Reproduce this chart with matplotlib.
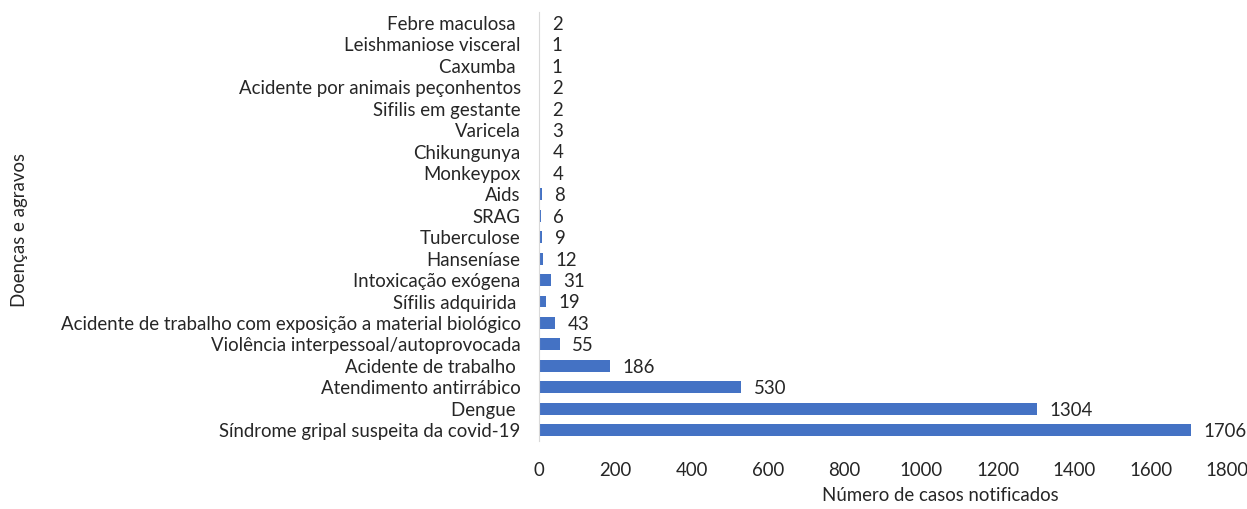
import matplotlib

matplotlib.use("Agg")
import matplotlib.pyplot as plt

# top to bottom as in the source chart
categories = [
    "Febre maculosa ",
    "Leishmaniose visceral",
    "Caxumba ",
    "Acidente por animais peçonhentos",
    "Sifilis em gestante",
    "Varicela",
    "Chikungunya",
    "Monkeypox",
    "Aids",
    "SRAG",
    "Tuberculose",
    "Hanseníase",
    "Intoxicação exógena",
    "Sífilis adquirida ",
    "Acidente de trabalho com exposição a material biológico",
    "Violência interpessoal/autoprovocada",
    "Acidente de trabalho ",
    "Atendimento antirrábico",
    "Dengue ",
    "Síndrome gripal suspeita da covid-19",
]
cases = [2, 1, 1, 2, 2, 3, 4, 4, 8, 6, 9, 12, 31, 19, 43, 55, 186, 530, 1304, 1706]
xticks = [0, 200, 400, 600, 800, 1000, 1200, 1400, 1600, 1800]

BAR = "#4472C4"
TXT = "#262626"
FS = 13.4
plt.rcParams["font.family"] = ["Lato", "DejaVu Sans"]

fig = plt.figure(figsize=(12.47, 5.09), dpi=100)
ax = fig.add_axes([0.432, 0.134, 0.552, 0.842])

n = len(categories)
ypos = [n - 1 - i for i in range(n)]
ax.barh(ypos, cases, height=0.55, color=BAR)

for y, v in zip(ypos, cases):
    ax.annotate(f"{v}", (v, y), xytext=(9, -1), textcoords="offset points",
                ha="left", va="center", fontsize=FS, color=TXT)

ax.set_xlim(0, 1800)
ax.set_ylim(-0.5, n - 0.5)
ax.set_xticks(xticks)
ax.set_xticklabels([str(t) for t in xticks], fontsize=FS, color=TXT)
ax.set_yticks(ypos)
ax.set_yticklabels(categories, fontsize=FS, color=TXT)
ax.tick_params(axis="both", length=0)
ax.tick_params(axis="x", pad=15)
ax.tick_params(axis="y", pad=13)

fig.text(0.754, 0.027, "Número de casos notificados", ha="center", va="center",
         fontsize=FS, color=TXT)
fig.text(0.016, 0.548, "Doenças e agravos", rotation=90, ha="center", va="center",
         fontsize=FS, color=TXT)

for spine in ("top", "right", "bottom"):
    ax.spines[spine].set_visible(False)
ax.spines["left"].set_color("#D9D9D9")

fig.savefig("out.png", dpi=100)
